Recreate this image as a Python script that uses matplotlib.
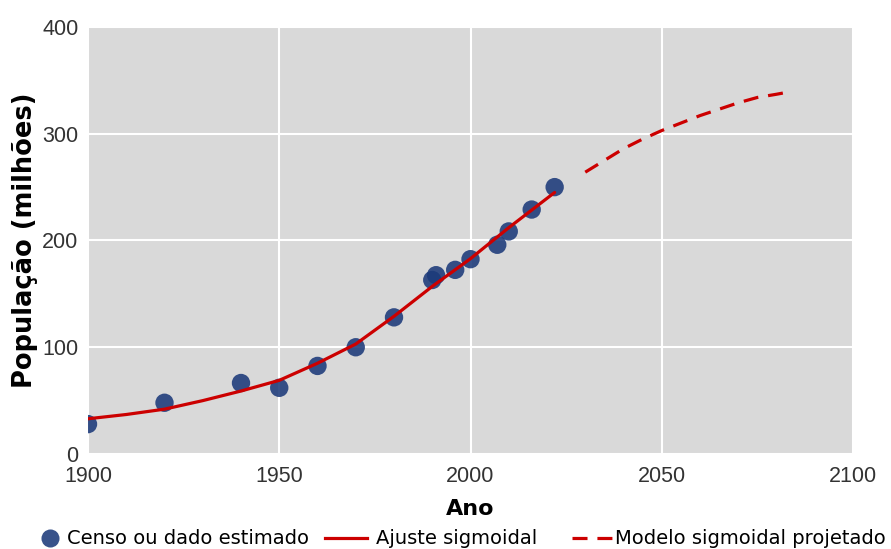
import matplotlib.pyplot as plt
from matplotlib.lines import Line2D

# dados
anos_censo = [1900, 1920, 1940, 1950, 1960, 1970, 1980, 1990, 1991, 1996, 2000, 2007, 2010, 2016, 2022]
pop_censo = [28, 48, 66.5, 62, 82.5, 100, 128, 163, 167.5, 172.5, 182.5, 196, 208.5, 229, 250]

anos_ajuste = [1900, 1910, 1920, 1930, 1940, 1950, 1960, 1970, 1980, 1990, 2000, 2010, 2022]
pop_ajuste = [33, 37, 42, 50, 59, 69, 85, 103, 129, 157, 183, 212, 245]

anos_proj = [2030, 2035, 2040, 2045, 2050, 2055, 2060, 2065, 2070, 2075, 2080, 2083]
pop_proj = [264, 275, 286, 295, 303, 310, 317, 323, 329, 334, 337, 339]

azul = '#1c3a7a'
vermelho = '#cc0000'

fig = plt.figure(figsize=(8.91, 5.49), dpi=100)
ax = fig.add_axes([88 / 891, 1 - 454 / 549, (853 - 88) / 891, (454 - 27) / 549])
ax.set_facecolor('#d9d9d9')

ax.scatter(anos_censo, pop_censo, s=175, color=azul, alpha=0.88, edgecolors='none', zorder=3)
ax.plot(anos_ajuste, pop_ajuste, color=vermelho, lw=2.3, zorder=4, solid_capstyle='round')
ax.plot(anos_proj, pop_proj, color=vermelho, lw=2.3, dashes=(4.7, 3.1), zorder=4)

ax.set_xlim(1900, 2100)
ax.set_ylim(0, 400)
ax.set_xticks([1900, 1950, 2000, 2050, 2100])
ax.set_yticks([0, 100, 200, 300, 400])
ax.grid(True, color='white', lw=1.5)
ax.set_axisbelow(True)
for s in ax.spines.values():
    s.set_visible(False)
ax.tick_params(length=0, labelsize=15.5, labelcolor='#333333')
ax.tick_params(axis='x', pad=9)
ax.tick_params(axis='y', pad=7)
for lbl in ax.get_xticklabels() + ax.get_yticklabels():
    lbl.set_family('Liberation Sans')

ax.set_xlabel('Ano', fontsize=16, fontweight='bold', labelpad=8)
ax.set_ylabel('População (milhões)', fontsize=18.5, fontweight='bold', labelpad=3)

# legenda em três partes, na parte de baixo
fs = 14
em = fs * 100 / 72
y_leg = 1 - 539 / 549
itens = [
    (Line2D([], [], marker='o', ls='none', ms=13, color=azul, alpha=0.88, mec='none'),
     'Censo ou dado estimado', 40, 1.0, 8),
    (Line2D([], [], color=vermelho, lw=2.3),
     'Ajuste sigmoidal', 325, 42 / em, 9),
    (Line2D([], [], color=vermelho, lw=2.3, dashes=(4.7, 3.1)),
     'Modelo sigmoidal projetado', 572, 40 / em, 3),
]
for h, txt, x0, hl, pad in itens:
    fig.legend([h], [txt], loc='center left', bbox_to_anchor=(x0 / 891, y_leg),
               frameon=False, fontsize=fs, borderpad=0, borderaxespad=0,
               handlelength=hl, handletextpad=pad / em)

fig.savefig('out.png', dpi=100)
